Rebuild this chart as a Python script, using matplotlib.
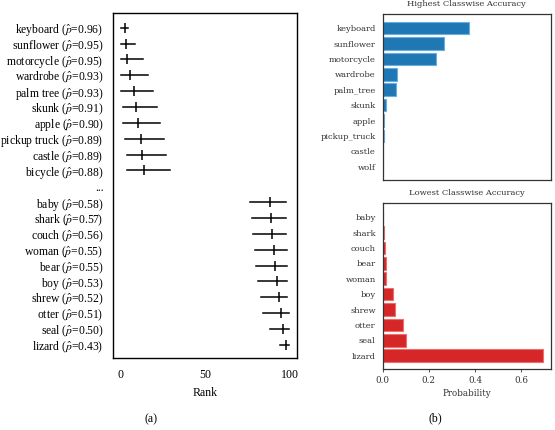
import numpy as np
import matplotlib
matplotlib.use('Agg')
from matplotlib import pyplot as plt

plt.rcParams['mathtext.fontset'] = 'stix'

# (a) rank of each class: median and spread
rank_classes = ['keyboard', 'sunflower', 'motorcycle', 'wardrobe', 'palm tree',
                'skunk', 'apple', 'pickup truck', 'castle', 'bicycle', None,
                'baby', 'shark', 'couch', 'woman', 'bear',
                'boy', 'shrew', 'otter', 'seal', 'lizard']
rank_p = [0.96, 0.95, 0.95, 0.93, 0.93, 0.91, 0.90, 0.89, 0.89, 0.88, None,
          0.58, 0.57, 0.56, 0.55, 0.55, 0.53, 0.52, 0.51, 0.50, 0.43]
rank_mid = [2.5, 3.3, 4.1, 5.9, 7.8, 9.4, 10.6, 12.0, 12.9, 13.7, None,
            88.2, 89.2, 89.8, 90.6, 91.4, 92.4, 93.5, 94.7, 96.1, 97.6]
rank_lo = [0.6, 0.6, 0.6, 0.6, 0.6, 1.8, 1.8, 2.7, 3.7, 3.7, None,
           76.5, 77.5, 78.4, 79.4, 80.4, 81.4, 83.3, 84.3, 88.2, 94.1]
rank_hi = [4.7, 8.4, 13.3, 16.3, 19.2, 21.4, 23.3, 25.5, 27.2, 29.2, None,
           97.6, 97.6, 97.6, 98.6, 98.6, 98.6, 98.6, 99.6, 99.6, 99.6]

# (b) classwise probability
high_classes = ['keyboard', 'sunflower', 'motorcycle', 'wardrobe', 'palm_tree',
                'skunk', 'apple', 'pickup_truck', 'castle', 'wolf']
high_prob = [0.374, 0.265, 0.233, 0.063, 0.056, 0.014, 0.007, 0.005, 0.0015, 0.0005]
low_classes = ['baby', 'shark', 'couch', 'bear', 'woman',
               'boy', 'shrew', 'otter', 'seal', 'lizard']
low_prob = [0.002, 0.004, 0.010, 0.014, 0.013, 0.043, 0.052, 0.087, 0.101, 0.695]

fig = plt.figure(figsize=(5.55, 4.3), dpi=100)

# ---- (a) ----
ax = fig.add_axes([0.204, 0.1667, 0.332, 0.804])
labels = []
for i, (c, p) in enumerate(zip(rank_classes, rank_p)):
    if c is None:
        labels.append('...')
        continue
    labels.append(c + r' ($\hat{p}$=%.2f)' % p)
    ax.plot([rank_lo[i], rank_hi[i]], [i, i], color='black', lw=1.1)
    ax.plot([rank_mid[i]], [i], marker='|', color='black', ms=7, mew=1.1)
ax.set_yticks(np.arange(len(rank_classes)))
ax.set_yticklabels(labels, family='Liberation Serif', fontsize=8.4)
ax.set_ylim(len(rank_classes) - 1 + 0.85, -0.95)
ax.set_xlim(-4.2, 104.6)
ax.set_xticks([0, 50, 100])
ax.set_xticklabels(['0', '50', '100'], family='Liberation Serif', fontsize=8.6)
ax.tick_params(length=0, pad=7)
ax.tick_params(axis='x', pad=8)
ax.set_xlabel('Rank', family='Liberation Serif', fontsize=8.6, labelpad=4)
for s in ax.spines.values():
    s.set_linewidth(1.0)

# ---- (b) ----
def bar_panel(rect, classes, probs, color, edge, title, show_x):
    a = fig.add_axes(rect)
    y = np.arange(len(classes))
    a.barh(y, probs, height=0.82, color=color, edgecolor=edge, linewidth=0.8)
    a.set_yticks(y)
    a.set_yticklabels(classes, family='DejaVu Serif', fontsize=6, color='#333333')
    a.set_ylim(len(classes) - 1 + 0.88, -0.9)
    a.set_xlim(0, 0.729)
    a.set_title(title, family='DejaVu Serif', fontsize=6, color='#333333', pad=6)
    a.tick_params(axis='y', length=0, pad=5)
    if show_x:
        a.set_xticks([0.0, 0.2, 0.4, 0.6])
        a.set_xticklabels(['0.0', '0.2', '0.4', '0.6'], family='DejaVu Serif',
                          fontsize=6.3, color='#333333')
        a.tick_params(axis='x', length=2.5, width=0.6, color='#333333', pad=2)
        a.set_xlabel('Probability', family='DejaVu Serif', fontsize=6.3,
                      color='#333333', labelpad=3)
    else:
        a.set_xticks([])
    for s in a.spines.values():
        s.set_linewidth(0.9)
        s.set_color('#333333')
    return a

bar_panel([0.6895, 0.5807, 0.3032, 0.386], high_classes, high_prob,
          '#1f77b4', '#6aaee0', 'Highest Classwise Accuracy', False)
bar_panel([0.6895, 0.1412, 0.3032, 0.386], low_classes, low_prob,
          '#d62728', '#ec6f70', 'Lowest Classwise Accuracy', True)

fig.text(151 / 555, 1 - 419 / 430, '(a)', family='Liberation Serif', fontsize=8.6,
         ha='center', va='center')
fig.text(435 / 555, 1 - 418 / 430, '(b)', family='Liberation Serif', fontsize=8.6,
         ha='center', va='center')

plt.savefig('out.png', dpi=100)
plt.close()
